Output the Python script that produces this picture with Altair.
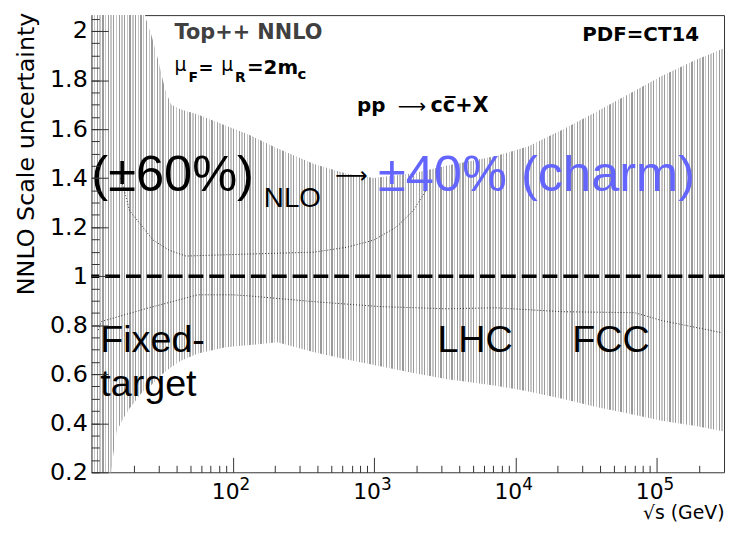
import altair as alt
import pandas as pd

# ---------------- data ----------------
sqrt_s = [10, 13.5, 14.3, 15.1, 16.8, 18.6, 23.0, 24.1, 26.5, 29.7, 33.3, 36.7, 43.1,
          56.8, 89, 127, 207, 377, 643, 1000, 1900, 3250, 7300, 12400, 21500, 36700,
          62700, 108600, 185000, 300000]
upper = [2.5, 2.5, 2.5, 2.5, 2.5, 2.5, 2.3, 2.057, 1.988, 1.883, 1.76, 1.70, 1.68,
         1.66, 1.615, 1.58, 1.522, 1.458, 1.418, 1.40, 1.42, 1.45, 1.49, 1.53, 1.597, 1.668,
         1.741, 1.817, 1.88, 1.93]
lower = [0.1, 0.15, 0.27, 0.366, 0.418, 0.459, 0.528, 0.535, 0.555, 0.585, 0.61, 0.628, 0.655,
         0.685, 0.71, 0.718, 0.73, 0.69, 0.66, 0.638, 0.605, 0.58, 0.553, 0.53, 0.50, 0.467,
         0.44, 0.41, 0.39, 0.366]

inner_hi_s = [16.1, 17.4, 18.6, 27.4, 35.5, 46.8, 66.7, 127, 217, 377, 643, 995, 1440, 1900, 2340]
inner_hi_v = [1.40, 1.335, 1.268, 1.147, 1.106, 1.082, 1.085, 1.09, 1.094, 1.098, 1.118, 1.147,
              1.20, 1.268, 1.35]
inner_lo_s = [11.2, 11.8, 25.2, 56.8, 100, 127, 377, 1096, 3243, 7278, 21500, 70000, 108600, 286000]
inner_lo_v = [0.78, 0.815, 0.87, 0.924, 0.924, 0.92, 0.896, 0.876, 0.867, 0.871, 0.855, 0.851,
              0.819, 0.77]

ref_line = [1.0]

y_major = [0.2, 0.4, 0.6, 0.8, 1.0, 1.2, 1.4, 1.6, 1.8, 2.0]
y_minor = [round(0.2 + 0.05 * i, 2) for i in range(38)]
x_major = [100, 1000, 10000, 100000]
x_minor = [m * 10 ** e for e in range(1, 6) for m in range(2, 10) if m * 10 ** e < 300000]
exponents = ["2", "3", "4", "5"]

# ---------------- layout ----------------
W, H = 638, 461
xs = alt.Scale(type="log", domain=[10, 300000], nice=False)
ys = alt.Scale(domain=[0.2, 2.065], nice=False, zero=False)

# hatch texture (vertical stripes) as a linear gradient fill
N = 232
stops = []
for i in range(N):
    c = "#9a9a9a" if i % 2 == 0 else "#c6c6c6"
    a, b, e = i / N, (i + 0.5) / N, (i + 1) / N
    stops += [{"offset": a, "color": c}, {"offset": b, "color": c},
              {"offset": b, "color": "#ffffff"}, {"offset": e, "color": "#ffffff"}]
hatch = {"gradient": "linear", "x1": 0, "y1": 0, "x2": 1, "y2": 0, "stops": stops}

df_band = pd.DataFrame({"s": sqrt_s, "hi": upper, "lo": lower})
df_inner = pd.concat([
    pd.DataFrame({"s": inner_hi_s, "v": inner_hi_v, "k": "hi"}),
    pd.DataFrame({"s": inner_lo_s, "v": inner_lo_v, "k": "lo"}),
])
df_ref = pd.DataFrame({"v": ref_line})
df_exp = pd.DataFrame({"s": x_major, "e": exponents})

band = alt.Chart(df_band).mark_area(clip=True, fill=hatch).encode(
    x=alt.X("s:Q", scale=xs, axis=alt.Axis(
        orient="bottom", values=x_major, labelExpr="'10'", ticks=False, tickSize=0,
        domain=False, grid=False, labelOffset=-7.5, labelPadding=9, labelFontSize=22,
        title="√s (GeV)", titleX=W, titleY=46.5, titleAlign="right",
        titleBaseline="alphabetic", titleFontSize=19)),
    y=alt.Y("lo:Q", scale=ys, axis=alt.Axis(
        orient="left", values=y_major, format=".1~f", ticks=False, tickSize=0,
        domain=False, grid=False, labelPadding=4, labelFontSize=24,
        title="NNLO Scale uncertainty", titleX=-58, titleY=-3, titleAngle=270,
        titleAlign="right", titleBaseline="alphabetic", titleFontSize=24)),
    y2="hi:Q",
)

dots = alt.Chart(df_inner).mark_line(strokeDash=[1, 2], color="#333", strokeWidth=1, clip=True).encode(
    x=alt.X("s:Q", scale=xs, title=None, axis=alt.Axis(
        orient="top", offset=-H, values=x_major, labels=False, domain=False, grid=False,
        ticks=True, tickSize=15, tickColor="#333", tickWidth=1, zindex=1)),
    y=alt.Y("v:Q", scale=ys, title=None, axis=alt.Axis(
        orient="right", offset=-W, values=y_minor, labels=False, domain=False, grid=False,
        ticks=True, tickSize=8, tickColor="#333", tickWidth=1, zindex=1)),
    detail="k:N",
)

dash = alt.Chart(df_ref).mark_rule(color="black", strokeWidth=3.5, strokeDash=[15, 6]).encode(
    y=alt.Y("v:Q", scale=ys, title=None, axis=alt.Axis(
        orient="right", offset=-W, values=y_major, labels=False, domain=False, grid=False,
        ticks=True, tickSize=17, tickColor="#333", tickWidth=1, zindex=1)),
)

exp = alt.Chart(df_exp).mark_text(align="left", baseline="alphabetic", font="DejaVu Sans",
                                  fontSize=17, dx=7, color="black").encode(
    x=alt.X("s:Q", scale=xs, title=None, axis=alt.Axis(
        orient="top", offset=-H, values=x_minor, labels=False, domain=False, grid=False,
        ticks=True, tickSize=7, tickColor="#333", tickWidth=1, zindex=1)),
    y=alt.value(H + 18),
    text="e:N",
)

one = pd.DataFrame({"a": [0]})


def label(s, px, py, size, font="Liberation Sans", weight="normal", color="black"):
    # px, py: page pixel position (plot area starts at 92, 13)
    return alt.Chart(one).mark_text(align="left", baseline="alphabetic", font=font,
                                    fontSize=size, fontWeight=weight, color=color).encode(
        x=alt.value(px - 92), y=alt.value(py - 13), text=alt.value(s))


texts = [
    label("Top++ NNLO", 176, 37, 21, "DejaVu Sans", "bold", "#404040"),
    label("μ", 176, 69, 19, "DejaVu Sans"),
    label("F", 190, 80, 14, "DejaVu Sans", "bold"),
    label("=", 200, 72, 18, "DejaVu Sans", "bold"),
    label("μ", 223, 69, 19, "DejaVu Sans"),
    label("R", 237, 80, 14, "DejaVu Sans", "bold"),
    label("=2m", 249, 72, 20, "DejaVu Sans", "bold"),
    label("c", 300, 77, 15, "DejaVu Sans", "bold"),
    label("PDF=CT14", 587, 39, 20, "DejaVu Sans", "bold"),
    label("pp", 360, 111, 20, "DejaVu Sans", "bold"),
    label("⟶", 401, 112, 20, "DejaVu Sans"),
    label("cc\u0305+X", 434, 111, 21, "DejaVu Sans", "bold"),
    label("(±60%)", 92, 190, 51),
    label("NLO", 266, 207, 28),
    label("⟶", 338, 182, 23, "DejaVu Sans"),
    label("±40% (charm)", 381, 190, 51, color="#6464ff"),
    label("Fixed-", 101, 353, 38),
    label("target", 101, 397, 38),
    label("LHC", 441, 353, 38),
    label("FCC", 577, 353, 38),
]

chart = alt.layer(band, dots, dash, exp, *texts).resolve_axis(
    x="independent", y="independent"
).properties(
    width=W, height=H,
    autosize=alt.AutoSizeParams(type="none"),
    padding={"left": 84, "top": 5, "right": 1, "bottom": 50},
).configure_view(
    stroke="#333", strokeWidth=1
).configure_axis(
    labelFont="DejaVu Sans", titleFont="DejaVu Sans", labelColor="black",
    titleColor="black", titleFontWeight="normal"
)

chart.save("out.html", embed_options={"renderer": "svg", "actions": False})
